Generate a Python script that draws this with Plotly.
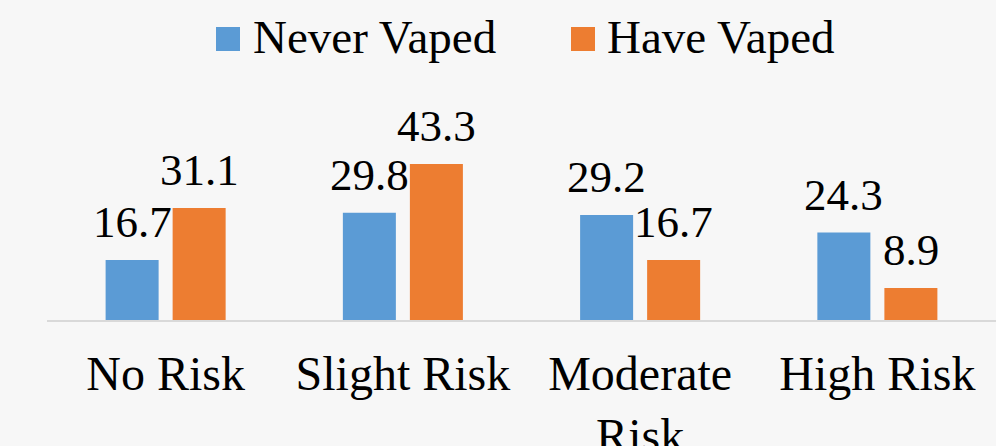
import plotly.graph_objects as go

# Perceived risk of vaping, percent of respondents in each group
categories = ["No Risk", "Slight Risk", "Moderate<br>Risk", "High Risk"]
never_vaped = [16.7, 29.8, 29.2, 24.3]
have_vaped = [31.1, 43.3, 16.7, 8.9]
series_names = ["Never Vaped", "Have Vaped"]
series_colors = ["#5B9BD5", "#ED7D31"]

FONT = "Liberation Serif"
W, H = 996, 446
M_L, M_R, M_T, M_B = 47, 0, 104, 126
Y_MAX = 60

# Pixel -> paper coordinates for the hand-placed legend
def px_x(x):
    return (x - M_L) / (W - M_L - M_R)

def px_y(y):
    return (H - M_B - y) / (H - M_T - M_B)

fig = go.Figure()
for name, vals, col in zip(series_names, [never_vaped, have_vaped], series_colors):
    fig.add_trace(go.Bar(
        x=categories, y=vals, name=name,
        marker=dict(color=col, line=dict(width=0)),
        showlegend=False,
    ))

# Value labels above each bar
offsets = [-33.5, 33.5]
for vals, dx in zip([never_vaped, have_vaped], offsets):
    for cat, v in zip(categories, vals):
        fig.add_annotation(
            x=cat, y=v, xref="x", yref="y",
            text=f"{v:.1f}", showarrow=False,
            xanchor="center", yanchor="bottom",
            xshift=dx, yshift=11,
            font=dict(family=FONT, size=45, color="black"),
        )

# Legend: colour swatches and series names across the top
legend_items = [(216, 251), (571, 605)]
for (sx, tx), name, col in zip(legend_items, series_names, series_colors):
    fig.add_shape(
        type="rect", xref="paper", yref="paper",
        x0=px_x(sx), x1=px_x(sx + 24), y0=px_y(51), y1=px_y(27),
        fillcolor=col, line=dict(width=0),
    )
    fig.add_annotation(
        x=px_x(tx), y=px_y(37), xref="paper", yref="paper",
        text=name, showarrow=False, xanchor="left", yanchor="middle",
        font=dict(family=FONT, size=47, color="black"),
    )

fig.update_layout(
    width=W, height=H,
    margin=dict(l=M_L, r=M_R, t=M_T, b=M_B, pad=0, autoexpand=False),
    paper_bgcolor="#F7F7F7", plot_bgcolor="#F7F7F7",
    barmode="group", bargap=0.435, bargroupgap=0.209,
    showlegend=False,
    font=dict(family=FONT, color="black"),
    xaxis=dict(
        showline=True, linecolor="#D9D9D9", linewidth=2,
        showgrid=False, ticks="", ticklabelstandoff=10, automargin=False,
        tickfont=dict(family=FONT, size=48, color="black"),
    ),
    yaxis=dict(
        range=[0, Y_MAX], visible=False, showgrid=False, zeroline=False,
        automargin=False,
    ),
)

fig.write_html("out.html")
